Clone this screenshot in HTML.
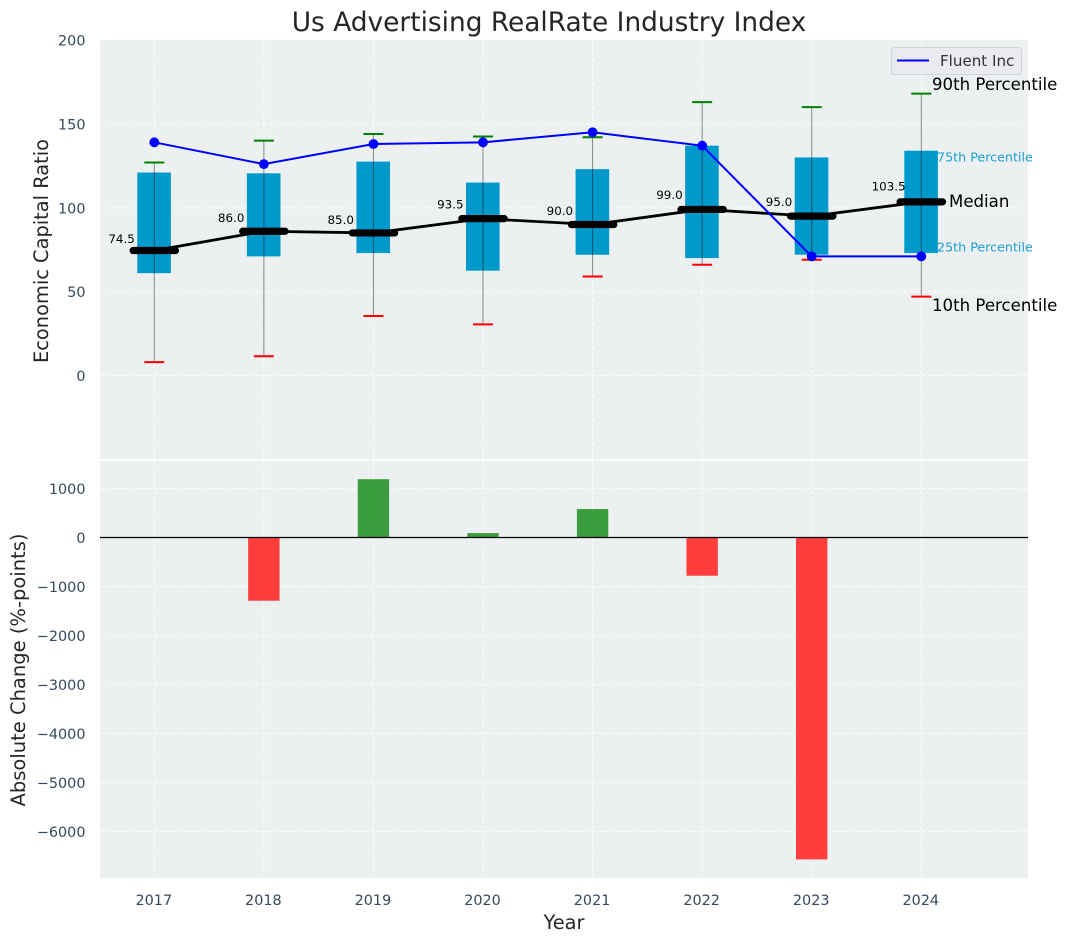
<!DOCTYPE html>
<html lang="en">
<head>
<meta charset="utf-8">
<title>Us Advertising RealRate Industry Index</title>
<style>
html,body{margin:0;padding:0;background:#fff;width:1067px;height:942px;overflow:hidden}
svg{display:block;font-family:"DejaVu Sans","Liberation Sans",sans-serif}
</style>
</head>
<body>
<svg id="chart" xmlns="http://www.w3.org/2000/svg" width="1067" height="942" viewBox="0 0 1067 942">
  <rect x="0" y="0" width="1067" height="942" fill="#ffffff"/>
  <rect x="100" y="40" width="928" height="419" fill="#ecf0f1"/>
  <rect x="100" y="460.5" width="928" height="417.5" fill="#ecf0f1"/>
  <g id="grid"></g>
  <g id="bottom"></g>
  <g id="boxes"></g>
  <g id="lines"></g>
  <g id="ticks"></g>
  <text x="549" y="31" font-size="26.4" text-anchor="middle" fill="#262626">Us Advertising RealRate Industry Index</text>
  <text transform="translate(47.8,251) rotate(-90)" font-size="19.4" text-anchor="middle" fill="#262626">Economic Capital Ratio</text>
  <text transform="translate(24.8,670) rotate(-90)" font-size="19.5" text-anchor="middle" fill="#262626">Absolute Change (%-points)</text>
  <text x="564" y="929" font-size="19.4" text-anchor="middle" fill="#262626">Year</text>
  <g>
    <rect x="891.5" y="47.5" width="130" height="27" rx="3" fill="#e9ebf0" stroke="#d2d4d8" stroke-width="1"/>
    <line x1="897" y1="60.5" x2="929" y2="60.5" stroke="#0000ff" stroke-width="2"/>
    <text x="940" y="66" font-size="15.1" fill="#333333">Fluent Inc</text>
  </g>
  <g>
    <text x="932" y="90" font-size="16.6" fill="#000">90th Percentile</text>
    <text x="937" y="161.5" font-size="12.7" fill="#1a9fd0">75th Percentile</text>
    <text x="949" y="207" font-size="16.6" fill="#000">Median</text>
    <text x="937" y="251.5" font-size="12.7" fill="#1a9fd0">25th Percentile</text>
    <text x="932" y="311" font-size="16.6" fill="#000">10th Percentile</text>
  </g>
</svg>
<script>
const years = [2017, 2018, 2019, 2020, 2021, 2022, 2023, 2024];
const p90 = [127, 140, 144, 142.5, 142, 163, 160, 168];
const p75 = [121, 120.5, 127.5, 115, 123, 137, 130, 134];
const medians = [74.5, 86, 85, 93.5, 90, 99, 95, 103.5];
const p25 = [61, 71, 73, 62.5, 72, 70, 72, 73];
const p10 = [8, 11.5, 35.5, 30.5, 59, 66, 69, 47];
const fluent = [139, 126, 138, 139, 145, 137, 71, 71];
const changes = [0, -1290, 1190, 90, 580, -780, -6570, 0];
const topTicks = [0, 50, 100, 150, 200];
const bottomTicks = [1000, 0, -1000, -2000, -3000, -4000, -5000, -6000];

const NS = 'http://www.w3.org/2000/svg';
const xPos = v => 154.3 + (v - 2017) * 109.57;
const yTop = v => 375.5 - v * 1.6775;
const yBottom = v => 537.5 - v * 0.049;

function make(parent, tag, attrs, text) {
  const el = document.createElementNS(NS, tag);
  for (const k in attrs) el.setAttribute(k, attrs[k]);
  if (text !== undefined) el.textContent = text;
  parent.appendChild(el);
  return el;
}
const grid = document.getElementById('grid');
const bottom = document.getElementById('bottom');
const boxes = document.getElementById('boxes');
const lines = document.getElementById('lines');
const ticks = document.getElementById('ticks');
const gridStyle = {stroke: '#ffffff', 'stroke-width': 1, 'stroke-dasharray': '4 2', opacity: 0.85};

years.forEach(y => {
  const a = make(grid, 'line', Object.assign({x1: xPos(y), x2: xPos(y), y1: 40, y2: 459}, gridStyle));
  
  
  const b = make(grid, 'line', Object.assign({x1: xPos(y), x2: xPos(y), y1: 460.5, y2: 878}, gridStyle));
  
  
  const t = make(ticks, 'text', {x: xPos(y) - 0.5, y: 905, 'font-size': 14.4, 'text-anchor': 'middle', fill: '#34495e'}, String(y));
  
  
});
topTicks.forEach(v => {
  if (v !== 200) {
    const g = make(grid, 'line', Object.assign({x1: 100, x2: 1028, y1: yTop(v), y2: yTop(v)}, gridStyle));
    
    
  }
  const t = make(ticks, 'text', {x: 85.5, y: yTop(v) + 5.5, 'font-size': 14.4, 'text-anchor': 'end', fill: '#34495e'}, String(v));
  
  
});
bottomTicks.forEach(v => {
  const g = make(grid, 'line', Object.assign({x1: 100, x2: 1028, y1: yBottom(v), y2: yBottom(v)}, gridStyle));
  
  
  const t = make(ticks, 'text', {x: 85.5, y: yBottom(v) + 5.5, 'font-size': 14.4, 'text-anchor': 'end', fill: '#34495e'}, String(v).replace('-', '\u2212'));
  
  
});

changes.forEach((v, i) => {
  if (v === 0) return;
  const top = Math.min(yBottom(v), yBottom(0));
  const bar = make(bottom, 'rect', {x: xPos(years[i]) - 15.7, y: top, width: 31.4, height: Math.abs(yBottom(v) - yBottom(0)), fill: v > 0 ? '#3a9c3c' : '#ff3d3d'});
  
  
});
const zero = make(bottom, 'line', {x1: 100, x2: 1028, y1: yBottom(0), y2: yBottom(0), stroke: '#000', 'stroke-width': 1.2});



years.forEach((y, i) => {
  const x = xPos(y);
  const box = make(boxes, 'rect', {x: x - 17, y: yTop(p75[i]), width: 33.6, height: yTop(p25[i]) - yTop(p75[i]), fill: '#0099cc'});
  
  
  const w = make(boxes, 'line', {x1: x, x2: x, y1: yTop(p90[i]), y2: yTop(p10[i]), stroke: '#000', 'stroke-opacity': 0.45, 'stroke-width': 1});
  
  
  const hi = make(boxes, 'line', {x1: x - 10, x2: x + 10, y1: yTop(p90[i]), y2: yTop(p90[i]), stroke: '#008000', 'stroke-width': 2});
  
  
  const lo = make(boxes, 'line', {x1: x - 10, x2: x + 10, y1: yTop(p10[i]), y2: yTop(p10[i]), stroke: '#ff0000', 'stroke-width': 2});
  
  
});

const medianLine = make(lines, 'polyline', {points: medians.map((v, i) => xPos(years[i]) + ',' + yTop(v)).join(' '), fill: 'none', stroke: '#000', 'stroke-width': 2.8});


medians.forEach((v, i) => {
  const x = xPos(years[i]);
  const m = make(lines, 'line', {x1: x - 21.2, x2: x + 21.2, y1: yTop(v), y2: yTop(v), stroke: '#000', 'stroke-width': 7.2, 'stroke-linecap': 'round'});
  
  
  const t = make(lines, 'text', {x: x - 32.7, y: yTop(v * 1.07) + 1, 'font-size': 11.9, 'text-anchor': 'middle', fill: '#000'}, v.toFixed(1));
  
  
});
const fluentLine = make(lines, 'polyline', {points: fluent.map((v, i) => xPos(years[i]) + ',' + yTop(v)).join(' '), fill: 'none', stroke: '#0000ff', 'stroke-width': 2});


fluent.forEach((v, i) => {
  const c = make(lines, 'circle', {cx: xPos(years[i]), cy: yTop(v), r: 4.9, fill: '#0000ff'});
  
  
});
</script>
</body>
</html>
